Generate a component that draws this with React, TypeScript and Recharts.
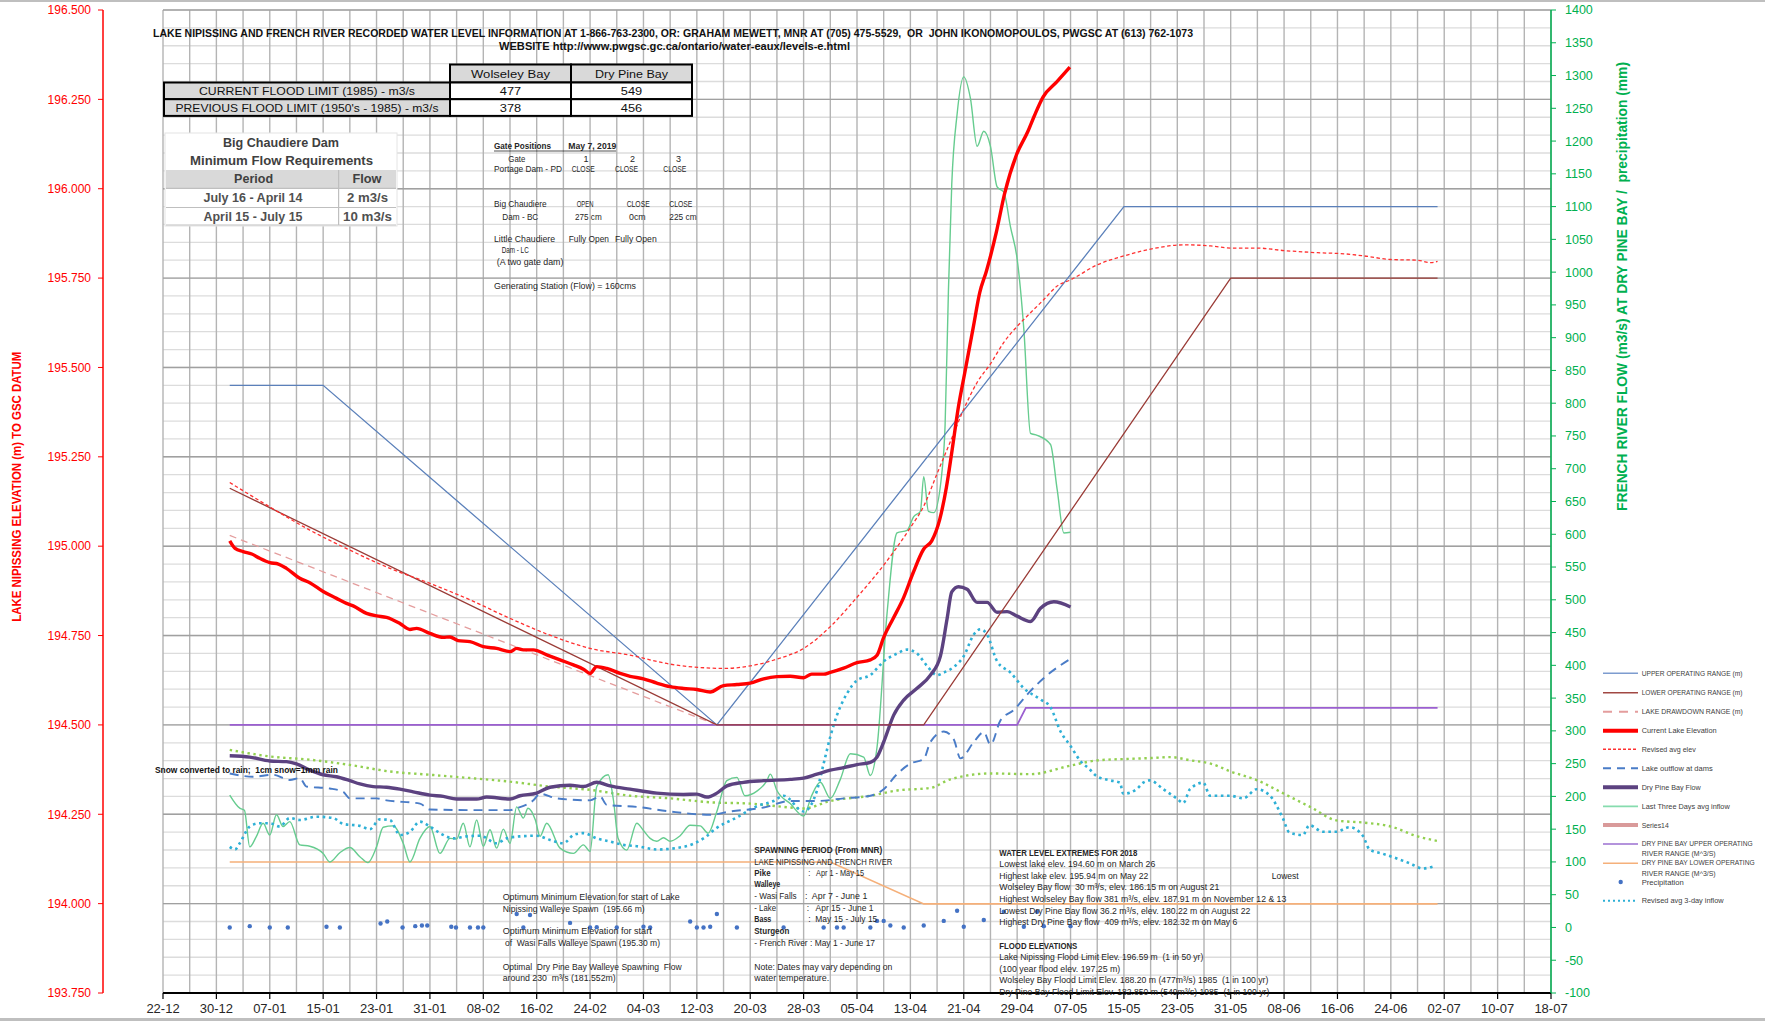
import React from 'react';
import { ComposedChart, Line, Scatter, XAxis, YAxis, CartesianGrid, Legend } from 'recharts';

type P = [number, number];

// ---- Data (day index counted from 22-12-2018) ----
const upperRange: P[] = [[10, 195.45], [24, 195.45], [83, 194.5], [144, 195.95], [191, 195.95]];
const lowerRange: P[] = [[10, 195.162], [83, 194.5], [114, 194.5], [160, 195.75], [191, 195.75]];
const drawdownRange: P[] = [[10, 195.03], [83, 194.5]];

const lakeElevation: P[] = [
  [10, 195.015], [10.8, 194.994], [12, 194.985], [13.3, 194.978], [14.5, 194.966], [16, 194.954], [17.3, 194.95],
  [18.5, 194.938], [20.5, 194.91], [22, 194.898], [24, 194.873], [26, 194.854], [27.5, 194.84], [28.5, 194.833],
  [30.5, 194.812], [32, 194.805], [33.5, 194.801], [35.5, 194.784], [37, 194.767], [38, 194.77], [40, 194.756],
  [42, 194.745], [43, 194.746], [44.2, 194.736], [46, 194.733], [48, 194.719], [50, 194.714], [52, 194.705],
  [53, 194.714], [54, 194.71], [55.5, 194.71], [57.5, 194.696], [59.5, 194.682], [61.5, 194.668], [63, 194.656],
  [64, 194.644], [65, 194.663], [66.5, 194.658], [68.5, 194.644], [70, 194.636], [72, 194.629], [74, 194.617],
  [76, 194.607], [78, 194.602], [80, 194.599], [82, 194.592], [84, 194.61], [86, 194.613], [88, 194.617],
  [90, 194.629], [92, 194.635], [94, 194.636], [96, 194.632], [97.2, 194.642], [99, 194.642], [100, 194.647],
  [102, 194.659], [104, 194.674], [106, 194.682], [107, 194.695], [108, 194.745], [109.4, 194.797], [111, 194.857],
  [112.4, 194.925], [114, 194.992], [115.2, 195.015], [116.4, 195.075], [117.4, 195.165], [118.2, 195.262],
  [119.2, 195.39], [120.2, 195.49], [121.4, 195.61], [122.4, 195.71], [123.4, 195.77], [124.9, 195.88],
  [126.1, 195.985], [127.9, 196.095], [129.6, 196.16], [130.6, 196.205], [131.9, 196.257], [133.9, 196.298],
  [135.9, 196.34],
];

const revisedAvgElev: P[] = [
  [10, 195.178], [16, 195.11], [22, 195.045], [28, 194.989], [34, 194.938], [40, 194.896], [46, 194.85],
  [52, 194.798], [58, 194.751], [64, 194.714], [70, 194.695], [76, 194.67], [82, 194.659], [84, 194.658],
  [88, 194.665], [92, 194.684], [96, 194.714], [100, 194.775], [104, 194.857], [108, 194.947], [112, 195.052],
  [114, 195.112], [116, 195.203], [118, 195.293], [120, 195.383], [122, 195.458], [124, 195.51], [126, 195.57],
  [128, 195.615], [130, 195.653], [132, 195.69], [134, 195.728], [136, 195.745], [140, 195.787], [144, 195.812],
  [148, 195.831], [153, 195.843], [157, 195.84], [160, 195.834], [164, 195.834], [168, 195.827], [173, 195.821],
  [177, 195.818], [180, 195.812], [184, 195.802], [188, 195.8], [190, 195.793], [191, 195.797],
];

const lakeOutflow: P[] = [
  [10, 235], [13.5, 230], [16.5, 233], [19, 225], [20.5, 228], [21.5, 215], [25, 212], [27, 207], [28, 197],
  [32, 197], [33.5, 194], [38.5, 189], [40, 180], [47.5, 179], [52, 179], [53, 182], [55.5, 194], [56.5, 204],
  [59, 197], [64, 194], [65.5, 200], [66.5, 187], [71, 184], [76, 177], [82, 172], [85, 177], [90, 183], [94, 193],
  [98, 193], [102, 197], [106, 201], [108, 211], [110, 234], [112, 250], [114, 257], [115, 283], [117, 299],
  [118.5, 287], [119.5, 258], [121.5, 283], [123, 298], [124, 279], [125.5, 316], [127.5, 332], [130, 361],
  [132.5, 385], [136, 410],
];

const dryPineFlow: P[] = [
  [10, 262], [13, 260], [16, 254], [18.5, 253], [20, 249.5], [22, 240], [24, 233], [26, 230], [28, 224],
  [29.5, 219], [31.5, 215], [33.5, 214], [35.5, 211], [37.5, 207], [40, 202], [42, 200], [44, 196], [47, 196],
  [48.5, 199], [52, 196], [53.5, 201], [56, 205], [58, 214], [61, 217], [63, 215], [65, 221.5], [67, 216], [70, 211],
  [74, 205], [78, 203], [80, 203.5], [81.5, 199], [83, 205], [84.5, 216], [87, 221.5], [90, 224], [94, 226],
  [96, 228], [98, 234], [100, 240], [102, 244], [104, 248.5], [106, 252], [107, 260], [108, 283], [109.5, 324],
  [111, 347], [113, 365], [115, 385], [116.5, 414], [117.5, 471], [118.2, 512], [119.2, 520], [120.5, 516],
  [122, 496], [123.5, 496], [125, 481], [126.5, 482], [128, 475], [130, 467], [131.5, 487], [133.5, 497], [136, 489],
];

const lastThreeDays: P[] = [
  [10, 202], [11.5, 182], [12.2, 179], [13, 123], [14, 139], [15, 159], [16, 141], [17, 172], [18, 154], [19, 161.5],
  [20.5, 126], [22, 124], [24, 113], [25, 100], [26.5, 114], [28, 122], [29.5, 108], [30.7, 99], [32, 123], [33, 153],
  [34.5, 155], [36, 128.5], [37, 100], [38.5, 136], [40, 154], [41.5, 113], [43, 136], [44, 135], [45, 159], [46, 123],
  [47, 164], [48, 124], [49, 149], [50, 121], [51, 150], [52, 128.5], [53, 184], [54, 167], [54.7, 182], [55.8, 164],
  [56.5, 139], [57.5, 159], [59.5, 121], [61.5, 113], [63, 126], [64, 116], [65, 215], [66.7, 233], [67.5, 194.5],
  [68.2, 136], [69.5, 118], [71, 159], [72, 148], [73, 136], [74, 131.5], [75, 137], [76, 131.5], [77.5, 140],
  [79, 156], [80.5, 155], [81.7, 144], [83, 177], [84.5, 224], [86, 229], [87.2, 201], [89, 208], [90.5, 224],
  [91, 234], [92, 209], [94, 189], [96, 170], [97.2, 201], [98.5, 221.5], [100, 197], [101.5, 226], [103, 265],
  [105, 260], [106, 232], [107, 275], [108.5, 479], [110, 602], [111.5, 606], [112.5, 627], [113.5, 635], [114, 688],
  [114.7, 635], [115.5, 633], [116.7, 692], [117.2, 766], [117.7, 971], [118.2, 1134], [119, 1241], [120, 1298],
  [121, 1265], [122, 1192], [123, 1215], [124, 1192], [125, 1130], [126, 1122], [127, 1069], [128, 1020], [129, 913],
  [130, 754], [131, 751], [133, 737], [134, 668], [135, 602], [136, 603],
];

const revised3Day: P[] = [
  [10, 123], [10.8, 119], [11.5, 128.5], [13, 154], [14.5, 159], [16, 159], [17.5, 154], [19, 167], [20.5, 164],
  [23, 169], [25.5, 167], [27, 158], [29.5, 155], [31, 150], [32.5, 165], [34, 164], [35.5, 141], [37, 146],
  [38.5, 161.5], [40, 154], [41.5, 144], [43.5, 136], [45.5, 139], [47.5, 140], [50, 128.5], [51.5, 136], [53.5, 139],
  [56, 140], [58, 133.5], [60, 128.5], [61.5, 141], [63, 144], [65, 136], [67, 131], [69, 126], [71, 124], [74, 119],
  [78, 123], [81, 136], [83, 152], [86, 168], [89, 185], [91.5, 193], [93, 201], [96, 177], [98, 209], [99, 250],
  [100, 291], [101, 324], [102.5, 357], [104, 377], [106, 385], [108, 406], [110, 418], [111.5, 424], [113, 418],
  [114.5, 399], [116, 385], [117, 389], [118.5, 397.5], [120, 414], [121.5, 447], [122.5, 455], [123.5, 447],
  [125, 406], [127, 389], [129, 365], [131.5, 348], [133, 336], [134.5, 299], [136, 277], [137.4, 255], [138.9, 241],
  [139.9, 231], [141.9, 224.5], [143.4, 221], [143.9, 204], [145.9, 211], [146.9, 221], [147.9, 224.5], [149.9, 211],
  [151.9, 197], [152.9, 190], [153.9, 211], [155.9, 221], [156.9, 201], [159.9, 201], [161.9, 197], [163.9, 211],
  [165.9, 201], [167.8, 167], [168.8, 145], [170.8, 141], [171.8, 156], [173.8, 146], [175.8, 146], [177.8, 153],
  [179.8, 140], [180.8, 119], [182.8, 112.5], [184.8, 105.6], [186.8, 98], [188.8, 90], [190.3, 93],
];

const greenDotted: P[] = [
  [10, 271], [16, 261], [22, 256], [28, 248], [34, 238], [40, 233], [46, 228], [52, 222.5], [58, 215], [64, 210],
  [70, 201], [76, 197], [82, 191], [88, 189], [94, 183], [96, 181.5], [100, 193], [106, 201], [110, 209], [115, 213],
  [118, 226], [124, 235], [130, 234], [136, 247], [140, 255], [144, 257], [148, 258.5], [151, 260], [154, 255],
  [157, 250], [160, 238], [164, 224.5], [168, 204], [172, 183.5], [176, 163], [180, 160], [184, 154], [188, 139],
  [191, 132],
];

const dpbUpper: P[] = [[10, 309], [128, 309], [129.3, 335], [191, 335]];
const dpbLower: P[] = [[10, 100], [100, 100], [114, 36], [191, 36]];

const precipitation: P[] = [
  [10, 0], [13, 2], [16, 0], [18.7, 0], [24.5, 1], [26.5, 0], [32.6, 6], [33.6, 9], [35.9, 0], [37.8, 2], [38.8, 3],
  [39.6, 3], [43.2, 1], [43.9, 0], [46, 0], [47.2, 0], [48, 0], [53, 20.6], [54, 0], [55, 19], [61, 7], [64, 0],
  [65, 0.5], [68, 0], [72, 1], [73, 0], [79, 9], [80, 0], [81, 0], [82, 1], [83, 20.6], [86, 0], [93, 0], [99, 0],
  [101, 0], [102, 0], [106, 0], [107, 10], [108, 10], [109, 3], [111, 0], [114, 3], [117, 10], [119, 25.6], [120, 1],
  [123, 11.5], [126, 24], [129, 1], [131, 24], [132, 2], [136, 2],
];

// ---- Axis ticks ----
const START = Date.UTC(2018, 11, 22);
const fmtDay = (d: number) => {
  const dt = new Date(START + d * 86400000);
  return String(dt.getUTCDate()).padStart(2, '0') + '-' + String(dt.getUTCMonth() + 1).padStart(2, '0');
};
const xTicks = Array.from({ length: 27 }, (_, i) => i * 8);
const xMinor = Array.from({ length: 53 }, (_, i) => i * 4);
const leftTicks = Array.from({ length: 12 }, (_, i) => 193.75 + i * 0.25);
const leftMinor = Array.from({ length: 56 }, (_, i) => +(193.75 + i * 0.05).toFixed(2));
const rightTicks = Array.from({ length: 31 }, (_, i) => -100 + i * 50);

const pts = (a: P[]) => a.map(([d, v]) => ({ d, v }));

const FONT = 'Liberation Sans, Arial, sans-serif';

type TI = { t: string; x: number; y: number; w?: number; s?: number; b?: boolean | number; f?: string; a?: 'start' | 'middle' | 'end'; r?: boolean };
const Txt = ({ t, x, y, w, s = 9, b, f = '#262626', a = 'start', r }: TI) => (
  <text
    x={x}
    y={y}
    fontSize={s}
    fontWeight={b === true ? 'bold' : b ? b : 'normal'}
    fill={f}
    textAnchor={a}
    dominantBaseline="central"
    textLength={w}
    lengthAdjust={w ? 'spacingAndGlyphs' : undefined}
    transform={r ? `rotate(-90 ${x} ${y})` : undefined}
    fontFamily={FONT}
    style={{ whiteSpace: 'pre' }}
  >
    {t}
  </text>
);

const titleTexts: TI[] = [
  { t: 'LAKE NIPISSING AND FRENCH RIVER RECORDED WATER LEVEL INFORMATION AT 1-866-763-2300, OR: GRAHAM MEWETT, MNR AT (705) 475-5529,  OR  JOHN IKONOMOPOULOS, PWGSC AT (613) 762-1073', x: 673, y: 32.5, w: 1040, s: 11.5, b: true, f: '#111', a: 'middle' },
  { t: 'WEBSITE http://www.pwgsc.gc.ca/ontario/water-eaux/levels-e.html', x: 674.5, y: 46, w: 351, s: 11.5, b: true, f: '#111', a: 'middle' },
  { t: 'LAKE NIPISSING ELEVATION (m) TO GSC DATUM', x: 16.5, y: 486.7, w: 270, s: 13, b: true, f: '#ff0000', a: 'middle', r: true },
  { t: 'FRENCH RIVER FLOW (m3/s) AT DRY PINE BAY /  precipitation (mm)', x: 1622, y: 286.5, w: 449, s: 14.5, b: true, f: '#00b050', a: 'middle', r: true },
  { t: 'Snow converted to rain;  1cm snow=1mm rain', x: 155, y: 770, w: 183, s: 8.5, b: true, f: '#111' },
];

const gateTexts: TI[] = [
  { t: 'Gate Positions', x: 494, y: 146, w: 57, b: true },
  { t: 'May 7, 2019', x: 568.3, y: 146, w: 48, b: true },
  { t: 'Gate', x: 508.3, y: 158.7, w: 17 },
  { t: '1', x: 583.5, y: 158.7 }, { t: '2', x: 630, y: 158.7 }, { t: '3', x: 676, y: 158.7 },
  { t: 'Portage Dam - PD', x: 494, y: 169, w: 68 },
  { t: 'CLOSE', x: 571.7, y: 169, w: 23 }, { t: 'CLOSE', x: 615, y: 169, w: 23 }, { t: 'CLOSE', x: 663.3, y: 169, w: 23 },
  { t: 'Big Chaudiere', x: 494, y: 204, w: 52.7 },
  { t: 'OPEN', x: 576.7, y: 204, w: 16.7 }, { t: 'CLOSE', x: 626.7, y: 204, w: 23 }, { t: 'CLOSE', x: 669.3, y: 204, w: 23 },
  { t: 'Dam - BC', x: 502.3, y: 216.7, w: 36 },
  { t: '275 cm', x: 575, y: 216.7, w: 26.7 }, { t: '0cm', x: 629, y: 216.7, w: 16.7 }, { t: '225 cm', x: 669.3, y: 216.7, w: 27.3 },
  { t: 'Little Chaudiere', x: 494, y: 239.3, w: 61 },
  { t: 'Fully Open', x: 568.7, y: 239.3, w: 40.3 }, { t: 'Fully Open', x: 615, y: 239.3, w: 41.7 },
  { t: 'Dam - LC', x: 501.7, y: 250, w: 27 },
  { t: '(A two gate dam)', x: 496.7, y: 261.7, w: 66.7 },
  { t: 'Generating Station (Flow) = 160cms', x: 494, y: 286, w: 142 },
].map((o) => ({ s: 9, ...o }));

const noteTexts: TI[] = [
  { t: 'Optimum Minimum Elevation for start of Lake', x: 502.7, y: 897.3, w: 177 },
  { t: 'Nipissing Walleye Spawn  (195.66 m)', x: 502.7, y: 909, w: 142 },
  { t: 'Optimum Minimum Elevation for start', x: 502.7, y: 930.7, w: 149 },
  { t: 'of  Wasi Falls Walleye Spawn (195.30 m)', x: 505, y: 943.3, w: 155 },
  { t: 'Optimal  Dry Pine Bay Walleye Spawning  Flow', x: 502.7, y: 966.7, w: 179 },
  { t: 'around 230  m³/s (181.552m)', x: 502.7, y: 978.3, w: 113 },
  { t: 'SPAWNING PERIOD (From MNR)', x: 754.3, y: 850, w: 128, b: true },
  { t: 'LAKE NIPISSING AND FRENCH RIVER', x: 754.3, y: 861.7, w: 138 },
  { t: 'Pike', x: 754.3, y: 873.3, w: 16.3, b: true },
  { t: ':   Apr 1 - May 15', x: 808.3, y: 873.3, w: 55.7 },
  { t: 'Walleye', x: 754.3, y: 884.3, w: 26, b: true },
  { t: '- Wasi Falls', x: 754.3, y: 896, w: 42.3 },
  { t: ':  Apr 7 - June 1', x: 805, y: 896, w: 62.3 },
  { t: '- Lake', x: 754.3, y: 908.3, w: 21.7 },
  { t: ':   Apr 15 - June 1', x: 806.7, y: 908.3, w: 66.7 },
  { t: 'Bass', x: 754.3, y: 919.3, w: 17, b: true },
  { t: ':  May 15 - July 15', x: 808.3, y: 919.3, w: 69 },
  { t: 'Sturgeon', x: 754.3, y: 931, w: 35, b: true },
  { t: '- French River : May 1 - June 17', x: 754.3, y: 942.7, w: 120.7 },
  { t: 'Note: Dates may vary depending on', x: 754.3, y: 966.7, w: 138 },
  { t: 'water temperature.', x: 754.3, y: 977.7, w: 75 },
  { t: 'WATER LEVEL EXTREMES FOR 2018', x: 999.3, y: 853.3, w: 138, b: true },
  { t: 'Lowest lake elev. 194.60 m on March 26', x: 999.3, y: 864, w: 156 },
  { t: 'Highest lake elev. 195.94 m on May 22', x: 999.3, y: 875.7, w: 149 },
  { t: 'Lowest', x: 1271.7, y: 876, w: 27 },
  { t: 'Wolseley Bay flow  30 m³/s, elev. 186.15 m on August 21', x: 999.3, y: 887.3, w: 220 },
  { t: 'Highest Wolseley Bay flow 381 m³/s, elev. 187.91 m on November 12 & 13', x: 999.3, y: 899, w: 287 },
  { t: 'Lowest Dry Pine Bay flow 36.2 m³/s, elev. 180.22 m on August 22', x: 999.3, y: 910.7, w: 251 },
  { t: 'Highest Dry Pine Bay flow  409 m³/s, elev. 182.32 m on May 6', x: 999.3, y: 922.3, w: 238 },
  { t: 'FLOOD ELEVATIONS', x: 999.3, y: 946, w: 78, b: true },
  { t: 'Lake Nipissing Flood Limit Elev. 196.59 m  (1 in 50 yr)', x: 999.3, y: 957.3, w: 204 },
  { t: '(100 year flood elev. 197.25 m)', x: 999.3, y: 968.7, w: 121 },
  { t: 'Wolseley Bay Flood Limit Elev. 188.20 m (477m³/s) 1985  (1 in 100 yr)', x: 999.3, y: 980, w: 269 },
  { t: 'Dry Pine Bay Flood Limit Elev. 182.850 m (549m³/s) 1985  (1 in 100 yr)', x: 999.3, y: 992.3, w: 270 },
].map((o) => ({ s: 9, ...o }));

// Flood limit table
const floodHeader = ['Wolseley Bay', 'Dry Pine Bay'];
const floodRows = [
  { label: 'CURRENT FLOOD LIMIT (1985) - m3/s', w: 216, vals: ['477', '549'] },
  { label: "PREVIOUS FLOOD LIMIT (1950's - 1985) - m3/s", w: 263, vals: ['378', '456'] },
];
const minFlowRows = [
  { period: 'July 16 - April 14', flow: '2 m3/s', fw: 41 },
  { period: 'April 15 - July 15', flow: '10 m3/s', fw: 49 },
];

type LI = { name: string[]; color: string; width: number; dash?: string; dot?: boolean; tw: number[]; fs?: number };
const legendItems: LI[] = [
  { name: ['UPPER OPERATING RANGE (m)'], color: '#7d9ccf', width: 1.6, tw: [100.7] },
  { name: ['LOWER OPERATING RANGE (m)'], color: '#a14843', width: 1.6, tw: [100.7] },
  { name: ['LAKE DRAWDOWN RANGE (m)'], color: '#e49d9d', width: 2, dash: '9 7', tw: [101] },
  { name: ['Current Lake Elevation'], color: '#ff0000', width: 4, tw: [75] },
  { name: ['Revised avg elev'], color: '#ff3030', width: 1.4, dash: '3 2', tw: [54] },
  { name: ['Lake outflow at dams'], color: '#4a7cc7', width: 2, dash: '8 6', tw: [71] },
  { name: ['Dry Pine Bay Flow'], color: '#5c4280', width: 4, tw: [59] },
  { name: ['Last Three Days avg inflow'], color: '#86dcae', width: 1.8, tw: [88] },
  { name: ['Series14'], color: '#d99a9a', width: 4, tw: [27] },
  { name: ['DRY PINE BAY UPPER OPERATING', 'RIVER RANGE (M^3/S)'], color: '#9b6fd1', width: 1.6, tw: [111, 74], fs: 6.6 },
  { name: ['DRY PINE BAY LOWER OPERATING', 'RIVER RANGE (M^3/S)'], color: '#f5b07a', width: 1.6, tw: [113, 74], fs: 6.6 },
  { name: ['Precipitation'], color: '#4472c4', width: 0, dot: true, tw: [42] },
  { name: ['Revised avg 3-day inflow'], color: '#2eb0d6', width: 2, dash: '2 3', tw: [82] },
];
const legendY = [11.3, 30.7, 49.7, 68.7, 87.3, 106.3, 125.3, 144.3, 163, 182, 201.3, 220, 238.7];

const LegendBox = () => (
  <svg width={167} height={252} style={{ display: 'block' }}>
    {legendItems.map((it, i) => {
      const y = legendY[i];
      return (
        <g key={i}>
          {it.dot ? (
            <circle cx={22.7} cy={y} r={2.2} fill={it.color} />
          ) : (
            <line x1={5} x2={40} y1={y} y2={y} stroke={it.color} strokeWidth={it.width} strokeDasharray={it.dash} />
          )}
          {it.name.map((n, j) => (
            <Txt key={j} t={n} x={43.7} y={it.name.length > 1 ? y - 0.7 + j * 10.4 : y} w={it.tw[j]} s={j === 0 && it.fs ? it.fs : 8} f="#404040" />
          ))}
        </g>
      );
    })}
  </svg>
);

const dotShape = (p: any) => <circle cx={p.cx} cy={p.cy} r={2.2} fill="#4472c4" />;

export default function App() {
  return (
    <div style={{ position: 'absolute', left: 0, top: 0, width: 1765, height: 1021, background: '#fff', overflow: 'hidden', fontFamily: FONT }}>
      <ComposedChart width={1765} height={1021} margin={{ top: 10, right: 134, bottom: 2, left: 83 }}>
        <XAxis xAxisId="gx" dataKey="d" type="number" domain={[0, 208]} ticks={xMinor} hide allowDataOverflow interval={0} />
        <YAxis yAxisId="gy" dataKey="v" type="number" domain={[193.75, 196.5]} ticks={leftMinor} hide allowDataOverflow interval={0} />
        <CartesianGrid xAxisId="gx" yAxisId="gy" stroke="#dcdcdc" strokeWidth={1.3} vertical={false} />
        <CartesianGrid xAxisId="gx" yAxisId="gy" stroke="#b4b4b4" strokeWidth={1.4} horizontal={false} />
        <CartesianGrid xAxisId="gx" yAxisId="left" stroke="#a0a0a0" strokeWidth={1.4} vertical={false} />
        <XAxis
          dataKey="d"
          type="number"
          domain={[0, 208]}
          ticks={xTicks}
          interval={0}
          allowDataOverflow
          tickFormatter={fmtDay}
          height={26}
          tickSize={6}
          tickMargin={5}
          axisLine={{ stroke: '#000', strokeWidth: 2 }}
          tickLine={{ stroke: '#000', strokeWidth: 1.2 }}
          tick={{ fill: '#262626', fontSize: 13, fontFamily: FONT }}
        />
        <YAxis
          yAxisId="left"
          dataKey="v"
          type="number"
          domain={[193.75, 196.5]}
          ticks={leftTicks}
          interval={0}
          allowDataOverflow
          width={80}
          tickFormatter={(v: number) => v.toFixed(3)}
          tickSize={5}
          tickMargin={7}
          axisLine={{ stroke: '#ff0000', strokeWidth: 1.5 }}
          tickLine={{ stroke: '#ff0000' }}
          tick={{ fill: '#ff0000', fontSize: 12, fontFamily: FONT }}
        />
        <YAxis
          yAxisId="right"
          orientation="right"
          dataKey="v"
          type="number"
          domain={[-100, 1400]}
          ticks={rightTicks}
          interval={0}
          allowDataOverflow
          width={80}
          tickSize={5}
          tickMargin={9}
          axisLine={{ stroke: '#00b050', strokeWidth: 1.5 }}
          tickLine={{ stroke: '#00b050' }}
          tick={{ fill: '#00b050', fontSize: 12.5, fontFamily: FONT }}
        />

        <Line data={pts(dpbLower)} dataKey="v" yAxisId="right" type="linear" stroke="#f5b07a" strokeWidth={1.6} dot={false} isAnimationActive={false} name="DRY PINE BAY LOWER OPERATING RIVER RANGE (M^3/S)" />
        <Line data={pts(dpbUpper)} dataKey="v" yAxisId="right" type="linear" stroke="#9b5fd0" strokeWidth={1.8} dot={false} isAnimationActive={false} name="DRY PINE BAY UPPER OPERATING RIVER RANGE (M^3/S)" />
        <Line data={pts(greenDotted)} dataKey="v" yAxisId="right" type="monotone" stroke="#92d050" strokeWidth={2.4} strokeDasharray="2.4 3.6" dot={false} isAnimationActive={false} legendType="none" />
        <Line data={pts(lastThreeDays)} dataKey="v" yAxisId="right" type="monotone" stroke="#66cc8f" strokeWidth={1.4} dot={false} isAnimationActive={false} name="Last Three Days avg inflow" />
        <Line data={pts(revised3Day)} dataKey="v" yAxisId="right" type="monotone" stroke="#2eb0d6" strokeWidth={2.6} strokeDasharray="2.6 3.6" dot={false} isAnimationActive={false} name="Revised avg 3-day inflow" />
        <Line data={pts(lakeOutflow)} dataKey="v" yAxisId="right" type="monotone" stroke="#4a7cc7" strokeWidth={1.9} strokeDasharray="9 6" dot={false} isAnimationActive={false} name="Lake outflow at dams" />
        <Line data={pts(dryPineFlow)} dataKey="v" yAxisId="right" type="monotone" stroke="#5c4280" strokeWidth={3.4} dot={false} isAnimationActive={false} name="Dry Pine Bay Flow" />
        <Scatter data={pts(precipitation)} dataKey="v" yAxisId="right" fill="#4472c4" shape={dotShape} isAnimationActive={false} name="Precipitation" />

        <Line data={pts(upperRange)} dataKey="v" yAxisId="left" type="linear" stroke="#5b80ba" strokeWidth={1.3} dot={false} isAnimationActive={false} name="UPPER OPERATING RANGE (m)" />
        <Line data={pts(drawdownRange)} dataKey="v" yAxisId="left" type="linear" stroke="#e49d9d" strokeWidth={1.3} strokeDasharray="7 5" dot={false} isAnimationActive={false} name="LAKE DRAWDOWN RANGE (m)" />
        <Line data={pts(lowerRange)} dataKey="v" yAxisId="left" type="linear" stroke="#9a3b36" strokeWidth={1.3} dot={false} isAnimationActive={false} name="LOWER OPERATING RANGE (m)" />
        <Line data={pts(revisedAvgElev)} dataKey="v" yAxisId="left" type="monotone" stroke="#ff3030" strokeWidth={1.3} strokeDasharray="3.5 2.5" dot={false} isAnimationActive={false} name="Revised avg elev" />
        <Line data={pts(lakeElevation)} dataKey="v" yAxisId="left" type="monotone" stroke="#ff0000" strokeWidth={3.4} dot={false} isAnimationActive={false} name="Current Lake Elevation" />

        <Legend
          layout="vertical"
          align="center"
          verticalAlign="middle"
          content={() => <LegendBox />}
          wrapperStyle={{ left: 1598, top: 662, width: 167, height: 252 }}
        />
      </ComposedChart>

      <svg width={1765} height={1021} style={{ position: 'absolute', left: 0, top: 0, pointerEvents: 'none' }}>
        {/* Flood limit table */}
        <g>
          <rect x={450} y={64.5} width={121} height={18} fill="#d9d9d9" stroke="#000" strokeWidth={2} />
          <rect x={571} y={64.5} width={121} height={18} fill="#d9d9d9" stroke="#000" strokeWidth={2} />
          {floodRows.map((r, i) => (
            <g key={i}>
              <rect x={164} y={82.5 + i * 16.7} width={286} height={16.7} fill="#d9d9d9" stroke="#000" strokeWidth={2} />
              <rect x={450} y={82.5 + i * 16.7} width={121} height={16.7} fill="#fff" stroke="#000" strokeWidth={2} />
              <rect x={571} y={82.5 + i * 16.7} width={121} height={16.7} fill="#fff" stroke="#000" strokeWidth={2} />
              <Txt t={r.label} x={307} y={91.2 + i * 16.7} w={r.w} s={11.5} f="#111" a="middle" />
              <Txt t={r.vals[0]} x={510.5} y={91.2 + i * 16.7} w={21.4} s={11.5} f="#111" a="middle" />
              <Txt t={r.vals[1]} x={631.5} y={91.2 + i * 16.7} w={21.4} s={11.5} f="#111" a="middle" />
            </g>
          ))}
          <Txt t={floodHeader[0]} x={510.5} y={73.8} w={79} s={11.5} f="#111" a="middle" />
          <Txt t={floodHeader[1]} x={631.5} y={73.8} w={73} s={11.5} f="#111" a="middle" />
        </g>

        {/* Big Chaudiere minimum flow box */}
        <g>
          <rect x={165} y={133} width={232} height={93} fill="#fff" stroke="#e4e4e4" strokeWidth={1} />
          <Txt t="Big Chaudiere Dam" x={281} y={142.7} w={116} s={12.5} b={true} f="#404040" a="middle" />
          <Txt t="Minimum Flow Requirements" x={281.5} y={161} w={183} s={12.5} b={true} f="#404040" a="middle" />
          <rect x={166} y={170} width={230} height={18.3} fill="#d9d9d9" />
          <line x1={338.6} x2={338.6} y1={170} y2={225} stroke="#bfbfbf" strokeWidth={1.2} />
          <line x1={166} x2={396} y1={188.3} y2={188.3} stroke="#bfbfbf" strokeWidth={1.2} />
          <line x1={166} x2={396} y1={207.5} y2={207.5} stroke="#bfbfbf" strokeWidth={1.2} />
          <line x1={166} x2={396} y1={225} y2={225} stroke="#bfbfbf" strokeWidth={1.2} />
          <Txt t="Period" x={253.6} y={179} w={39} s={12.5} b={true} f="#404040" a="middle" />
          <Txt t="Flow" x={367} y={179} w={29} s={12.5} b={true} f="#404040" a="middle" />
          {minFlowRows.map((r, i) => (
            <g key={i}>
              <Txt t={r.period} x={253} y={198.3 + i * 19} w={99} s={12.5} b={600} f="#505050" a="middle" />
              <Txt t={r.flow} x={367.5} y={198.3 + i * 19} w={r.fw} s={12.5} b={600} f="#505050" a="middle" />
            </g>
          ))}
        </g>

        {/* Gate positions */}
        <line x1={494} x2={616} y1={151} y2={151} stroke="#262626" strokeWidth={0.8} />
        {gateTexts.map((o, i) => <Txt key={'g' + i} {...o} />)}

        {titleTexts.map((o, i) => <Txt key={'t' + i} {...o} />)}
        {noteTexts.map((o, i) => <Txt key={'n' + i} {...o} />)}
      </svg>
      <div style={{ position: 'absolute', left: 0, top: 0, width: 1765, height: 2, background: '#bfbfbf' }} />
      <div style={{ position: 'absolute', left: 0, top: 1018, width: 1765, height: 3, background: '#bfbfbf' }} />
    </div>
  );
}
